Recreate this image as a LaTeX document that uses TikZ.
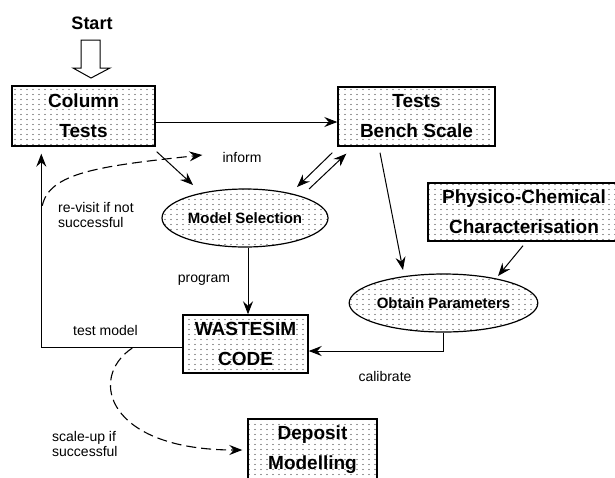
\documentclass[tikz,border=0pt]{standalone}
\usepackage{fontspec}
\setmainfont{Liberation Sans}
\usetikzlibrary{shapes.geometric,arrows.meta,patterns,calc}
\pgfdeclarepatternformonly{sdots}{\pgfpoint{-1pt}{-1pt}}{\pgfpoint{7pt}{6pt}}{\pgfpoint{6pt}{5pt}}{\pgfpathcircle{\pgfpoint{3pt}{2.5pt}}{0.6pt}\pgfusepath{fill}}
\begin{document}
\begin{tikzpicture}[x=1pt,y=-1pt,
 box/.style={draw, line width=1.4pt, pattern=sdots, pattern color=black!80, inner sep=0pt, align=center, font=\bfseries\fontsize{19}{30}\selectfont},
 oval/.style={ellipse, draw, line width=1.2pt, pattern=sdots, pattern color=black!80, inner sep=0pt, font=\bfseries\fontsize{15}{18}\selectfont},
 lab/.style={font=\fontsize{14}{15}\selectfont, inner sep=0pt},
 arr/.style={-{Stealth[length=13pt,width=10pt,inset=4.5pt]}, line width=1pt},
 dsh/.style={arr, line width=1.1pt, dash pattern=on 10pt off 5pt}]
\useasboundingbox (0,0) rectangle (615,477);
\fill[white] (0,0) rectangle (615,477);

% nodes
\node[font=\bfseries\fontsize{18}{20}\selectfont, inner sep=0pt] (start) at (92,23) {Start};
\node[box, minimum width=143, minimum height=60] (col) at (83.5,116) {Column\\Tests};
\node[box, minimum width=157, minimum height=59] (bench) at (416.5,116.5) {Tests\\Bench Scale};
\node[box, minimum width=192, minimum height=58] (phys) at (524,212) {Physico-Chemical\\Characterisation};
\node[oval, minimum width=166, minimum height=58] (model) at (245,218) {Model Selection};
\node[oval, minimum width=171, minimum height=58] (obtain) at (443.5,303) {Obtain Parameters};
\node[box, minimum width=125, minimum height=58] (waste) at (245.5,344) {WASTESIM\\CODE};
\node[box, minimum width=129, minimum height=62] (dep) at (312.5,450) {Deposit\\Modelling};

% labels
\node[lab] (inf) at (242,157) {inform};
\node[lab, align=left, anchor=west] (rev) at (58,215) {re-visit if not\\successful};
\node[lab] (prog) at (204,280) {program};
\node[lab] (tm) at (105.5,330) {test model};
\node[lab] (cal) at (385,376) {calibrate};
\node[lab, align=left, anchor=west] (sc) at (52,444) {scale-up if\\successful};

% hollow start arrow
\draw[line width=1pt, fill=white] (81,40) -- (100,40) -- (100,68) -- (110,68) -- (91,78) -- (73,68) -- (81,68) -- cycle;

% connectors
\draw[arr] ($(col.east)+(0,6)$) -- ($(bench.west)+(0,5.5)$);
\draw[arr] ($(col.south east)+(1,5)$) -- ($(model.center)+(-52,-33)$);
\draw[arr] ($(bench.south west)+(-5,6)$) -- ($(model.center)+(52,-31)$);
\draw[arr] ($(model.center)+(64,-29)$) -- ($(bench.south west)+(9,7)$);
\draw[arr] ($(bench.south)+(-36.5,6)$) -- ($(obtain.center)+(-40.5,-33)$);
\draw[arr] ($(phys.south)+(-1,4)$) -- ($(obtain.center)+(54.5,-27)$);
\draw[arr] ($(model.south)+(3,0)$) -- ($(waste.north)+(2.5,0)$);
\draw[arr] (obtain.south) |- ($(waste.east)+(0,7)$);
\draw[arr] ($(waste.west)+(0,3)$) -| ($(col.south west)+(30,7)$);
\draw[dsh] ($(col.south west)+(31,59)$) .. controls +(7,-33) and +(-103,11) .. ($(inf.west)+(-20,-2)$);
\draw[dsh] ($(waste.west)+(-50,4)$) .. controls +(-45,30) and +(-135,0) .. ($(dep.west)+(-5,0)$);
\end{tikzpicture}
\end{document}
